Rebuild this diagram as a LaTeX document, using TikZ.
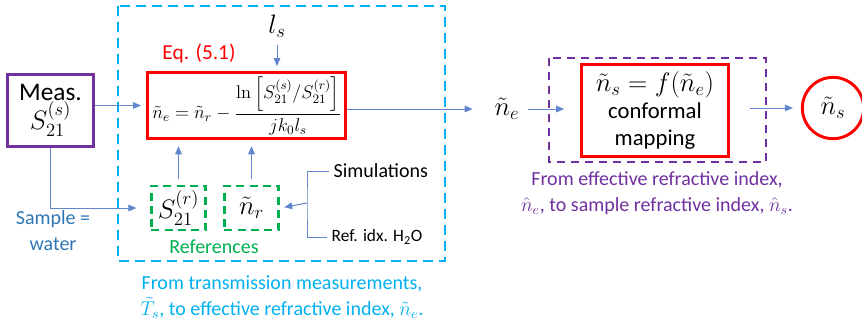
\RequirePackage{fix-cm}
\documentclass[tikz,border=0pt]{standalone}
\usepackage{amsmath}
\usepackage[no-math]{fontspec}
\setmainfont{Carlito}
\usetikzlibrary{arrows.meta}
\definecolor{skyblue}{HTML}{00B0F0}
\definecolor{linkblue}{HTML}{4472C4}
\definecolor{waterblue}{HTML}{2E75B6}
\definecolor{mappurple}{HTML}{7030A0}
\definecolor{refgreen}{HTML}{00B050}
\newcommand{\bigmath}{\fontsize{20}{22}\selectfont}

\begin{document}
\begin{tikzpicture}[
  x=0.75pt,y=-0.75pt,
  conn/.style={linkblue!85,line width=0.75pt,-{Triangle[length=6pt,width=5pt]}},
  link/.style={linkblue!85,line width=0.75pt},
  measbox/.style={draw=mappurple,line width=2.2pt,minimum width=64pt,minimum height=54pt,align=center,inner sep=0pt,font=\fontsize{19}{24}\selectfont},
  eqbox/.style={draw=red,line width=2.2pt,minimum width=148pt,minimum height=49pt,inner sep=0pt},
  refbox/.style={draw=refgreen,line width=2.2pt,dash pattern=on 6pt off 4pt,minimum width=41pt,minimum height=33pt,inner sep=0pt,font=\bigmath},
  mapbox/.style={draw=red,line width=2.2pt,minimum width=110pt,minimum height=69pt,align=center,inner sep=0pt,font=\fontsize{17}{20}\selectfont},
  outnode/.style={circle,draw=red,line width=2.2pt,minimum size=46pt,inner sep=0pt,font=\bigmath},
  caption/.style={align=center,font=\fontsize{15}{19.5}\selectfont}
]
  \useasboundingbox (0,0) rectangle (862,326);
  % groupings
  \draw[skyblue,line width=2.2pt,dash pattern=on 7.5pt off 4.5pt] (118,6) rectangle (445,261);
  \draw[mappurple,line width=2.2pt,dash pattern=on 6pt off 4.5pt] (549,58) rectangle (766,162);
  % blocks
  \node[measbox] (meas) at (50.5,110.5) {Meas.\\[-2pt]{\bigmath$S_{21}^{(s)}$}};
  \node[eqbox] (eq) at (246.5,105.5) {};
  \node[font=\fontsize{13.8}{16}\selectfont] (eqn) at (247,106)
    {$\tilde{n}_e=\tilde{n}_r-\dfrac{\ln\left[S_{21}^{(s)}/S_{21}^{(r)}\right]}{jk_0l_s}$};
  \node[red,font=\fontsize{16}{19}\selectfont] (eqlabel) at (199,53) {Eq. (5.1)};
  \node[font=\bigmath] (ls) at (277,26) {$l_s$};
  \node[refbox] (s21r) at (178.5,208) {$S_{21}^{(r)}$};
  \node[refbox] (nr) at (251.5,208) {$\tilde{n}_r$};
  \node[refgreen,font=\fontsize{15}{18}\selectfont] (refs) at (214,247) {References};
  \node[anchor=west,font=\fontsize{15}{18}\selectfont] (sim) at (329,171) {Simulations};
  \node[anchor=west,font=\fontsize{13}{16}\selectfont] (refidx) at (327,237) {Ref. idx. H\textsubscript{2}O};
  \node[waterblue,caption] (water) at (53,231) {Sample =\\water};
  \node[font=\bigmath] (ne) at (507,109) {$\tilde{n}_e$};
  \node[mapbox] (map) at (655,110.5) {{\bigmath$\tilde{n}_s=f(\tilde{n}_e)$}\\conformal\\mapping};
  \node[outnode] (ns) at (833,108) {$\tilde{n}_s$};
  \node[skyblue,caption] (capleft) at (282,297)
    {From transmission measurements,\\$\tilde{T}_s$, to effective refractive index, $\tilde{n}_e$.};
  \node[mappurple,caption] (capright) at (657,193)
    {From effective refractive index,\\$\hat{n}_e$, to sample refractive index, $\hat{n}_s$.};
  % connectors
  \coordinate (brk) at (307,203);
  \draw[conn,shorten <=2pt,shorten >=4pt] (ls) -- (ls |- eq.north);
  \draw[conn,shorten >=4pt] (meas.east |- eq.west) -- (eq.west);
  \draw[conn,shorten >=13pt] (eq.east |- ne.west) -- (ne.west);
  \draw[conn,shorten <=3pt,shorten >=12pt] (ne.east) -- (map.west |- ne.east);
  \draw[conn,shorten <=15pt,shorten >=6pt] (map.east |- ns.west) -- (ns.west);
  \draw[conn,shorten >=10pt] (meas.south) |- (s21r.west);
  \draw[conn,shorten <=4pt,shorten >=5pt] (s21r.north) -- (s21r.north |- eq.south);
  \draw[conn,shorten <=4pt,shorten >=5pt] (nr.north) -- (nr.north |- eq.south);
  \draw[link] (sim.west) -| (brk) |- (refidx.west);
  \draw[conn,shorten >=3pt] (brk) -- (nr.east);
\end{tikzpicture}
\end{document}
